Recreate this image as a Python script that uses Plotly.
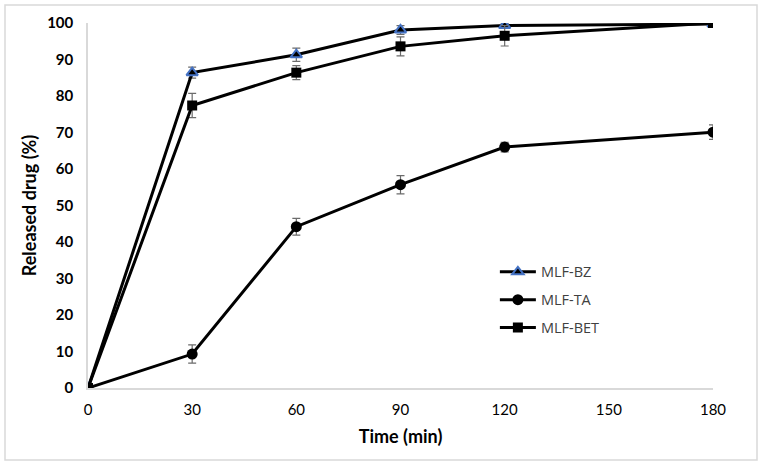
import plotly.graph_objects as go

# release data
time_min = [0, 30, 60, 90, 120, 180]
x_ticks = [0, 30, 60, 90, 120, 150, 180]

bz = [0, 86.4, 91.3, 98.1, 99.3, 99.7]
bz_err = [0, 1.5, 1.8, 1.2, 0.6, 0.6]

ta = [0, 9.3, 44.2, 55.7, 66.0, 70.1]
ta_err = [0, 2.5, 2.3, 2.5, 1.3, 2.0]

bet = [0, 77.4, 86.4, 93.6, 96.5, 100.0]
bet_err = [0, 3.3, 1.9, 2.6, 2.8, 0.6]

series = [
    ("MLF-BZ", bz, bz_err, "triangle-up", dict(color="black", size=10, line=dict(color="#4472C4", width=2))),
    ("MLF-TA", ta, ta_err, "circle", dict(color="black", size=11)),
    ("MLF-BET", bet, bet_err, "square", dict(color="black", size=10)),
]

fig = go.Figure()
for name, ys, errs, sym, mk in series:
    fig.add_trace(go.Scatter(
        x=time_min, y=ys, name=name, mode="lines+markers",
        line=dict(color="black", width=3),
        marker=dict(symbol=sym, **mk),
        error_y=dict(type="data", array=errs, visible=True, color="#6b6b6b", thickness=1.2, width=4),
        legendgroup=name,
    ))

# outer chart border
fig.add_shape(type="rect", xref="paper", yref="paper",
              x0=-0.1328, y0=-0.197, x1=1.0704, y1=1.049,
              line=dict(color="#d9d9d9", width=1.5), layer="below")

tick_font = dict(size=15, family="Lato", color="black")

fig.update_layout(
    width=762, height=466,
    margin=dict(l=88, r=49, t=23, b=78),
    paper_bgcolor="white", plot_bgcolor="white",
    font=dict(family="Lato, 'Open Sans', sans-serif", color="black"),
    showlegend=True,
    legend=dict(x=0.651, y=0.362, xanchor="left", yanchor="top",
                font=dict(size=14.5, color="#404040", family="'Open Sans', sans-serif"),
                itemwidth=36, tracegroupgap=6, bgcolor="rgba(0,0,0,0)"),
    xaxis=dict(range=[0, 180], tickvals=x_ticks, showgrid=False, zeroline=False,
               showline=True, linecolor="#d9d9d9", linewidth=1.5, ticks="",
               tickfont=tick_font, ticklabelstandoff=7, automargin=False,
               title=dict(text="<b>Time (min)</b>", font=dict(size=18, family="Lato"), standoff=14)),
    yaxis=dict(range=[0, 100], dtick=10, showgrid=False, zeroline=False,
               showline=True, linecolor="#d9d9d9", linewidth=1.5, ticks="",
               tickfont=tick_font, ticklabelstandoff=10, automargin=False,
               title=dict(text="<b>Released drug (%)</b>", font=dict(size=18, family="Lato"), standoff=6)),
)
fig.update_xaxes(tickprefix="<b>", ticksuffix="</b>")
fig.update_yaxes(tickprefix="<b>", ticksuffix="</b>")

# drop the default page margin so the chart sits at the window's corner
fig.write_html("out.html", config={"displayModeBar": False},
               post_script="document.body.style.margin='0';")
